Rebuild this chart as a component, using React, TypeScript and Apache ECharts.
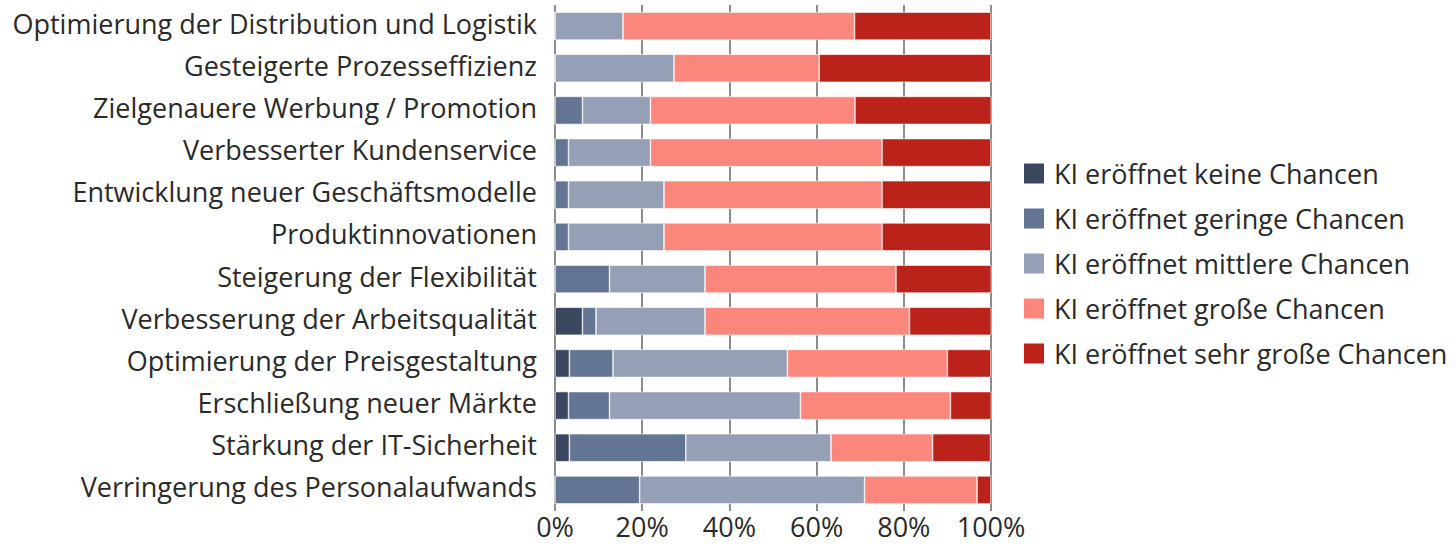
import React, { useEffect, useRef } from "react";
import * as echarts from "echarts";

const categories = [
  "Optimierung der Distribution und Logistik",
  "Gesteigerte Prozesseffizienz",
  "Zielgenauere Werbung / Promotion",
  "Verbesserter Kundenservice",
  "Entwicklung neuer Geschäftsmodelle",
  "Produktinnovationen",
  "Steigerung der Flexibilität",
  "Verbesserung der Arbeitsqualität",
  "Optimierung der Preisgestaltung",
  "Erschließung neuer Märkte",
  "Stärkung der IT-Sicherheit",
  "Verringerung des Personalaufwands",
];

const seriesNames = [
  "KI eröffnet keine Chancen",
  "KI eröffnet geringe Chancen",
  "KI eröffnet mittlere Chancen",
  "KI eröffnet große Chancen",
  "KI eröffnet sehr große Chancen",
];

const keine = [0, 0, 0, 0, 0, 0, 0, 6.3, 3.3, 3.1, 3.3, 0];
const geringe = [0, 0, 6.3, 3.1, 3.1, 3.1, 12.5, 3.1, 10.0, 9.4, 26.7, 19.4];
const mittlere = [15.6, 27.3, 15.6, 18.8, 21.9, 21.9, 21.9, 25.0, 40.0, 43.8, 33.3, 51.6];
const grosse = [53.1, 33.3, 46.9, 53.1, 50.0, 50.0, 43.8, 46.9, 36.7, 34.4, 23.3, 25.8];
const sehrGrosse = [31.3, 39.4, 31.3, 25.0, 25.0, 25.0, 21.9, 18.8, 10.0, 9.4, 13.3, 3.2];

const colors = ["#3b475f", "#637593", "#95a0b7", "#fb877c", "#bb231a"];
const FONT = "Open Sans";

export default function App() {
  const ref = useRef<HTMLDivElement>(null);
  useEffect(() => {
    document.body.style.margin = "0";
    if (!ref.current) return;
    const chart = echarts.init(ref.current, undefined, { renderer: "svg" });
    const data = [keine, geringe, mittlere, grosse, sehrGrosse];
    chart.setOption({
      animation: false,
      backgroundColor: "#fff",
      textStyle: { fontFamily: FONT },
      grid: { left: 555, right: 465, top: 5, bottom: 37, containLabel: false },
      legend: {
        orient: "vertical",
        left: 1017,
        top: 155,
        itemWidth: 22,
        itemHeight: 22,
        itemGap: 18,
        icon: "rect",
        textStyle: { fontFamily: FONT, fontSize: 27, color: "#2a2a2a", padding: [0, 0, 0, 4] },
        data: seriesNames,
      },
      xAxis: {
        type: "value",
        min: 0,
        max: 100,
        interval: 20,
        axisLine: { show: false },
        axisTick: { show: false },
        splitLine: { show: true, lineStyle: { color: "#8c8c8c", width: 2 } },
        axisLabel: {
          formatter: "{value}%",
          fontFamily: FONT,
          fontSize: 27,
          color: "#2a2a2a",
          margin: 2,
        },
      },
      yAxis: {
        type: "category",
        data: categories,
        inverse: true,
        axisLine: { show: false },
        axisTick: { show: false },
        splitLine: { show: false },
        axisLabel: {
          fontFamily: FONT,
          fontSize: 27,
          color: "#2a2a2a",
          margin: 18,
          lineHeight: 6,
          verticalAlign: "bottom",
        },
      },
      series: seriesNames.map((name, i) => ({
        name,
        type: "bar",
        stack: "total",
        barWidth: 28,
        data: data[i],
        itemStyle: { color: colors[i], borderColor: "#ffffff", borderWidth: 0.6 },
      })),
    });
    return () => chart.dispose();
  }, []);
  return <div ref={ref} style={{ width: 1456, height: 548 }} />;
}
